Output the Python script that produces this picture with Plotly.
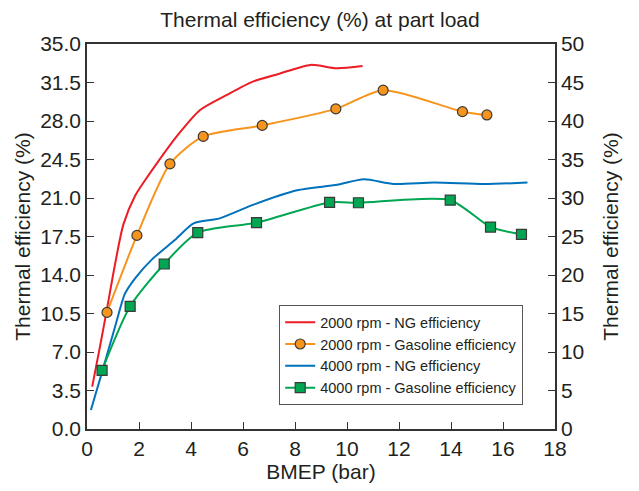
import plotly.graph_objects as go

# ---- data ----
ng2000_x = [0.2, 0.5, 0.76, 1.08, 1.4, 1.85, 2.2, 2.7, 3.45, 4.35, 5.4, 6.4, 7.4, 8.6, 9.6, 10.6]
ng2000_y = [3.85, 7.5, 10.8, 15.0, 18.6, 21.2, 22.5, 24.2, 26.6, 29.0, 30.4, 31.6, 32.3, 33.1, 32.8, 33.0]

gas2000_x = [0.77, 1.92, 3.19, 4.47, 6.74, 9.57, 11.39, 14.44, 15.38]
gas2000_y = [10.6, 17.6, 24.1, 26.6, 27.6, 29.1, 30.8, 28.85, 28.55]

ng4000_x = [0.15, 0.57, 1.08, 1.46, 1.85, 2.49, 3.39, 4.1, 5.1, 6.41, 8.08, 9.62, 10.65, 11.8, 13.35, 15.27, 16.94]
ng4000_y = [1.73, 5.1, 9.3, 12.3, 13.7, 15.4, 17.2, 18.7, 19.15, 20.4, 21.7, 22.2, 22.7, 22.27, 22.4, 22.27, 22.4]

gas4000_x = [0.58, 1.66, 2.97, 4.26, 6.52, 9.33, 10.44, 13.97, 15.52, 16.71]
gas4000_y = [5.33, 11.15, 15.0, 17.85, 18.76, 20.6, 20.57, 20.8, 18.36, 17.7]

left_ticks = [0.0, 3.5, 7.0, 10.5, 14.0, 17.5, 21.0, 24.5, 28.0, 31.5, 35.0]
right_ticks = [0, 5, 10, 15, 20, 25, 30, 35, 40, 45, 50]
x_ticks = [0, 2, 4, 6, 8, 10, 12, 14, 16, 18]

names = ["2000 rpm - NG efficiency", "2000 rpm - Gasoline efficiency",
         "4000 rpm - NG efficiency", "4000 rpm - Gasoline efficiency"]

RED = "#ed1c24"
ORANGE = "#f7941d"
BLUE = "#0072bc"
GREEN = "#00a651"
AX = "#333333"
TXT = "#231f20"
FONT = "Liberation Sans, Arial, sans-serif"
SM = 0.7

fig = go.Figure()
fig.add_trace(go.Scatter(x=ng2000_x, y=ng2000_y, name=names[0], mode="lines",
                         line=dict(color=RED, width=2, shape="spline", smoothing=SM)))
fig.add_trace(go.Scatter(x=gas2000_x, y=gas2000_y, name=names[1], mode="lines+markers",
                         line=dict(color=ORANGE, width=2, shape="spline", smoothing=SM),
                         marker=dict(symbol="circle", size=10, color=ORANGE,
                                     line=dict(color="#3a3a3a", width=1.2))))
fig.add_trace(go.Scatter(x=ng4000_x, y=ng4000_y, name=names[2], mode="lines",
                         line=dict(color=BLUE, width=2, shape="spline", smoothing=SM)))
fig.add_trace(go.Scatter(x=gas4000_x, y=gas4000_y, name=names[3], mode="lines+markers",
                         line=dict(color=GREEN, width=2, shape="spline", smoothing=SM),
                         marker=dict(symbol="square", size=10, color=GREEN,
                                     line=dict(color="#3a3a3a", width=1.2))))
# empty trace that activates the right-hand axis
fig.add_trace(go.Scatter(x=[None], y=[None], yaxis="y2", mode="lines",
                         showlegend=False, hoverinfo="skip"))

# the page body adds an 8 px offset, compensated in the margins
fig.update_layout(
    width=639, height=491,
    margin=dict(l=79, r=92, t=36, b=70, autoexpand=False),
    paper_bgcolor="white", plot_bgcolor="white",
    font=dict(family=FONT, size=21, color=TXT),
    title=dict(text="Thermal efficiency (%) at part load", x=(320 - 8) / 639, xanchor="center",
               y=1 - 12 / 491, yanchor="middle", yref="container",
               font=dict(family=FONT, size=21, color=TXT)),
    xaxis=dict(range=[0, 18], tickmode="array", tickvals=x_ticks,
               ticktext=[str(v) for v in x_ticks], automargin=False,
               ticks="inside", ticklen=7, tickwidth=1.2, tickcolor=AX,
               showline=True, linecolor=AX, linewidth=1.5, mirror=True,
               showgrid=False, zeroline=False,
               title=dict(text="BMEP (bar)", standoff=4, font=dict(size=21))),
    yaxis=dict(range=[0, 35], tickmode="array", tickvals=left_ticks,
               ticktext=[f"{v:.1f}" for v in left_ticks], automargin=False,
               ticks="inside", ticklen=7, tickwidth=1.2, tickcolor=AX,
               showline=True, linecolor=AX, linewidth=1.5,
               showgrid=False, zeroline=False,
               title=dict(text="Thermal efficiency (%)", standoff=4, font=dict(size=21))),
    yaxis2=dict(range=[0, 50], tickmode="array", tickvals=right_ticks,
                ticktext=[str(v) for v in right_ticks], automargin=False,
                overlaying="y", side="right", anchor="x",
                ticks="inside", ticklen=7, tickwidth=1.2, tickcolor=AX,
                showline=True, linecolor=AX, linewidth=1.5,
                showgrid=False, zeroline=False,
                title=dict(text="Thermal efficiency (%)", standoff=20, font=dict(size=21))),
    legend=dict(x=(279 - 87) / 468, y=(429 - 305) / 385, xanchor="left", yanchor="top",
                bgcolor="white", bordercolor="#555555", borderwidth=1.2,
                font=dict(family=FONT, size=14.5, color=TXT),
                tracegroupgap=0, itemwidth=30),
    showlegend=True,
)

fig.write_html("out.html")
